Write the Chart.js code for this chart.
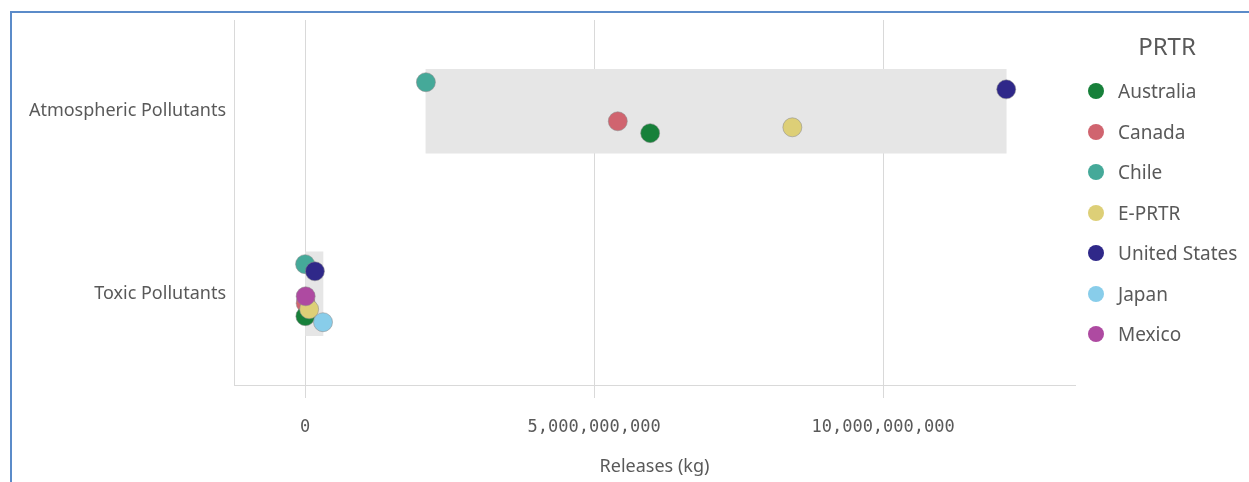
<!doctype html>
<html lang="en">
  <head>
    <meta charset="UTF-8" />
    <title>PRTR releases by pollutant type</title>
    <script src="https://cdn.jsdelivr.net/npm/chart.js"></script>
    <style>
      body {
        margin: 0;
        background: #fff;
        width: 1249px;
        height: 482px;
        overflow: hidden;
        font-family: 'Noto Sans', sans-serif;
        color: #595959;
      }
      .frame {
        position: absolute;
        left: 10px;
        top: 11px;
        right: 0;
        bottom: 0;
        border-left: 2px solid #5b8bc9;
        border-top: 2px solid #5b8bc9;
      }
      #chart {
        position: absolute;
        left: 0;
        top: 0;
      }
      .legend-title {
        position: absolute;
        left: 1087px;
        width: 160px;
        top: 30px;
        line-height: 32px;
        font-size: 24px;
        text-align: center;
      }
      .legend-items {
        position: absolute;
        left: 1088px;
        top: 71px;
      }
      .item {
        height: 40.5px;
        display: flex;
        align-items: center;
        font-size: 19px;
        white-space: nowrap;
      }
      .dot {
        width: 16px;
        height: 16px;
        border-radius: 50%;
        margin-right: 14px;
      }
    </style>
  </head>
  <body>
    <div class="frame"></div>
    <canvas id="chart" width="1249" height="482"></canvas>
    <div class="legend-title">PRTR</div>
    <div class="legend-items" id="legend"></div>

    <script>
      const categories = ['Atmospheric Pollutants', 'Toxic Pollutants'];
      const prtrNames = ['Australia', 'Canada', 'Chile', 'E-PRTR', 'United States', 'Japan', 'Mexico'];
      const prtrColors = ['#17803a', '#d0646f', '#45a999', '#ddcf77', '#2f2889', '#88cdea', '#ae4aa1'];
      // releases in kg (null = no value)
      const atmosphericReleases = [5.97e9, 5.41e9, 2.09e9, 8.43e9, 12.13e9, null, null];
      const toxicReleases = [0.005e9, 0.01e9, 0.0e9, 0.07e9, 0.17e9, 0.31e9, 0.01e9];
      // vertical jitter of each dot inside its band (category units)
      const atmosphericJitter = [0.12, 0.055, -0.159, 0.088, -0.12, 0, 0];
      const toxicJitter = [0.123, 0.052, -0.162, 0.085, -0.123, 0.156, 0.014];
      // which dot sits on top (lower = on top)
      const drawOrder = [4, 5, 6, 3, 2, 1, 0];
      const xTicks = [0, 5e9, 10e9];
      const xMin = -1.23e9;
      const xMax = 13.32e9;

      const seriesByCategory = [atmosphericReleases, toxicReleases];
      const jitterByCategory = [atmosphericJitter, toxicJitter];

      // one grey range box per category, from smallest to largest release
      const rangeData = seriesByCategory.map((vals, i) => {
        const v = vals.filter((x) => x !== null);
        return { x: [Math.min(...v), Math.max(...v)], y: i };
      });

      const datasets = prtrNames.map((name, p) => ({
        type: 'scatter',
        label: name,
        order: drawOrder[p],
        data: seriesByCategory
          .map((vals, c) =>
            vals[p] === null ? null : { x: vals[p], y: c + jitterByCategory[c][p] }
          )
          .filter((d) => d),
        backgroundColor: prtrColors[p],
        borderColor: 'rgba(140, 140, 140, 0.55)',
        borderWidth: 1,
        pointRadius: 9.5,
        pointHoverRadius: 9.5,
      }));

      datasets.push({
        type: 'bar',
        label: 'range',
        indexAxis: 'y',
        order: 20,
        data: rangeData,
        backgroundColor: '#e6e6e6',
        barThickness: 84,
      });

      new Chart(document.getElementById('chart'), {
        type: 'scatter',
        data: { datasets },
        options: {
          responsive: false,
          animation: false,
          events: [],
          layout: { padding: { top: 20, right: 174, bottom: 4, left: 0 } },
          plugins: {
            legend: { display: false },
            tooltip: { enabled: false },
          },
          scales: {
            x: {
              type: 'linear',
              min: xMin,
              max: xMax,
              offset: false,
              beginAtZero: false,
              afterBuildTicks: (scale) => {
                scale.ticks = xTicks.map((v) => ({ value: v }));
              },
              grid: {
                color: '#d9d9d9',
                tickLength: 13,
                offset: false,
              },
              border: { color: '#d9d9d9' },
              ticks: {
                font: { family: 'DejaVu Sans Mono', size: 17 },
                color: '#595959',
                padding: 19,
                maxRotation: 0,
                callback: (v) => Number(v).toLocaleString('en-US'),
              },
              title: {
                display: true,
                text: 'Releases (kg)',
                color: '#595959',
                font: { family: 'Noto Sans', size: 18 },
                padding: { top: 0, bottom: 0 },
              },
            },
            y: {
              type: 'linear',
              min: -0.5,
              max: 1.5,
              reverse: true,
              offset: false,
              afterFit: (scale) => {
                scale.width = 234;
              },
              afterBuildTicks: (scale) => {
                scale.ticks = categories.map((c, i) => ({ value: i }));
              },
              grid: { display: false, drawTicks: false, offset: false },
              border: { display: true, color: '#d9d9d9' },
              ticks: {
                font: { family: 'Noto Sans', size: 18 },
                color: '#595959',
                padding: 8,
                callback: (v) => categories[v],
              },
            },
          },
        },
      });

      // legend on the right
      const legend = document.getElementById('legend');
      prtrNames.forEach((name, i) => {
        const row = document.createElement('div');
        row.className = 'item';
        row.innerHTML = `<span class="dot" style="background:${prtrColors[i]}"></span>${name}`;
        legend.appendChild(row);
      });
    </script>
  </body>
</html>
